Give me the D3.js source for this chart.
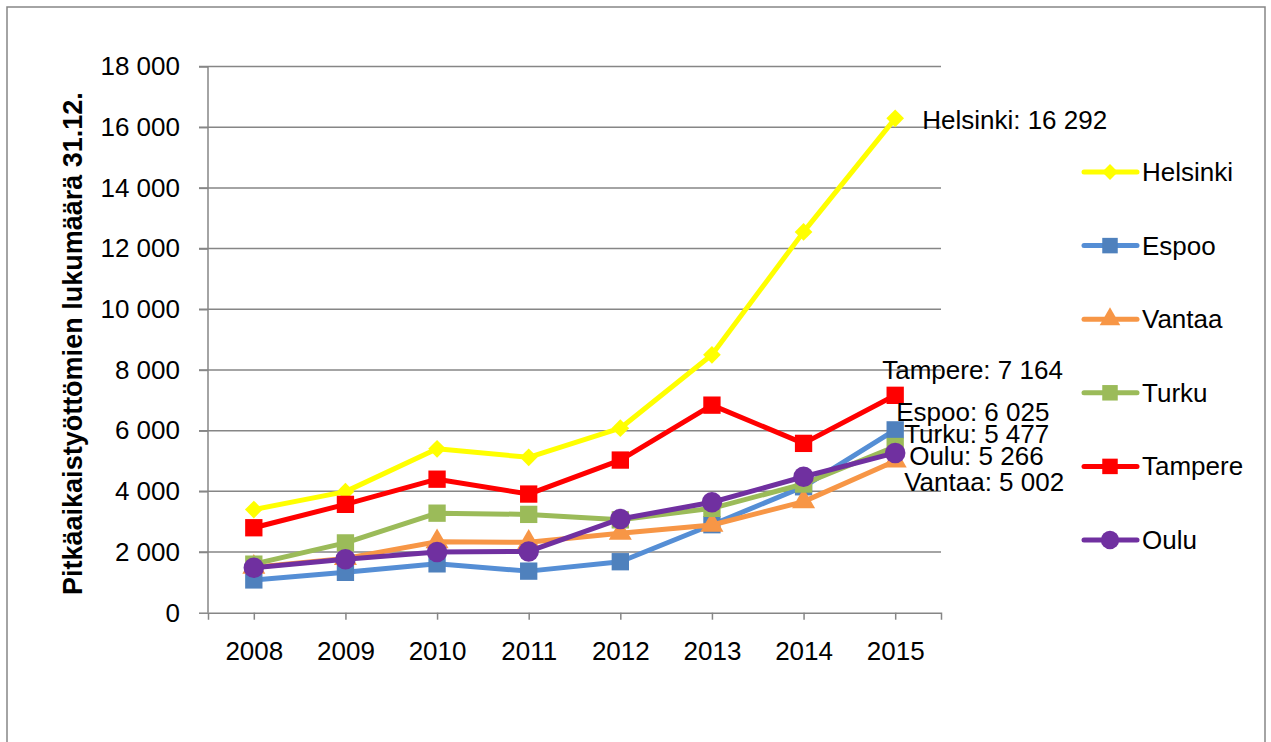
<!DOCTYPE html>
<html>
<head>
<meta charset="utf-8">
<script src="https://cdn.jsdelivr.net/npm/d3@7"></script>
<style>
  body { margin: 0; background: #fff; }
  text { font-family: "Liberation Sans", Arial, sans-serif; }
</style>
</head>
<body>
<div id="graf"></div>
<script>
// -- Datos
vuodet = ['2008', '2009', '2010', '2011', '2012', '2013', '2014', '2015']
kaupungit = ['Helsinki', 'Espoo', 'Vantaa', 'Turku', 'Tampere', 'Oulu']
helsinki = [3400, 3990, 5400, 5120, 6080, 8500, 12550, 16292]
espoo    = [1080, 1330, 1610, 1370, 1680, 2900, 4150, 6025]
vantaa   = [1500, 1790, 2340, 2320, 2620, 2890, 3660, 5002]
turku    = [1600, 2300, 3280, 3240, 3060, 3440, 4240, 5477]
tampere  = [2800, 3570, 4400, 3910, 5030, 6840, 5580, 7164]
oulu     = [1480, 1760, 2000, 2020, 3090, 3640, 4480, 5266]
yTicks = [0, 2000, 4000, 6000, 8000, 10000, 12000, 14000, 16000, 18000]
yOtsikko = 'Pitkäaikaistyöttömien lukumäärä 31.12.'

sarjat = [helsinki, espoo, vantaa, turku, tampere, oulu]

// -- Estilos por serie
tyylit = [
  {viiva: '#FFFF00', merkki: '#FFFF00', muoto: d3.symbolDiamond2, koko: 200},
  {viiva: '#558ED5', merkki: '#4F81BD', muoto: d3.symbolSquare, koko: 300},
  {viiva: '#F79646', merkki: '#F79646', muoto: d3.symbolTriangle, koko: 230},
  {viiva: '#9BBB59', merkki: '#9BBB59', muoto: d3.symbolSquare, koko: 300},
  {viiva: '#FF0000', merkki: '#FF0000', muoto: d3.symbolSquare, koko: 300},
  {viiva: '#7030A0', merkki: '#7030A0', muoto: d3.symbolCircle, koko: 330}
]
// -- Desplazamiento de las etiquetas del último punto
etiketit = [
  {dx: 27, dy: 2}, {dx: 1, dy: -18}, {dx: 9, dy: 21},
  {dx: 9, dy: -13}, {dx: -13, dy: -25}, {dx: 14, dy: 3}
]

ancho_total = 1271
alto_total = 742
fmt = d3.formatLocale({decimal: ',', thousands: ' ', grouping: [3], currency: ['', '€']}).format(',d')

svg = d3.select('#graf').append('svg')
        .attr('width', ancho_total)
        .attr('height', alto_total)

// -- Marco exterior
svg.append('rect')
    .attr('x', 7).attr('y', 7)
    .attr('width', 1258).attr('height', 760)
    .attr('fill', '#fff')
    .attr('stroke', '#868686')
    .attr('stroke-width', 1.5)

x = d3.scalePoint().domain(vuodet).range([208, 941]).padding(0.5)
y = d3.scaleLinear().domain([0, 18000]).range([612.7, 66.5])

// -- Grid
svg.append('g')
    .selectAll('line')
    .data(yTicks.slice(1))
    .join('line')
      .attr('x1', 199).attr('x2', 941)
      .attr('y1', d => y(d)).attr('y2', d => y(d))
      .attr('stroke', '#868686')
      .attr('stroke-width', 1.5)

// -- Ejes
yAxis = d3.axisLeft(y).tickValues(yTicks).tickSize(9).tickSizeOuter(0).tickPadding(19).tickFormat(fmt)
gy = svg.append('g').attr('transform', 'translate(208,0)').call(yAxis)
gy.selectAll('line, path').attr('stroke', '#868686').attr('stroke-width', 1.5)
gy.selectAll('text').attr('font-size', 26).attr('fill', '#000')
gy.select('.domain').attr('d', `M0,${y(18000)}V${y(0)}`)

xAxis = d3.axisBottom(x).tickSize(7).tickSizeOuter(7).tickPadding(22)
gx = svg.append('g').attr('transform', `translate(0,${y(0)})`).call(xAxis)
gx.selectAll('line, path').attr('stroke', '#868686').attr('stroke-width', 1.5)
gx.selectAll('text').attr('font-size', 26).attr('fill', '#000')

// -- Título eje Y
svg.append('text')
    .attr('transform', `translate(82, ${(y(0) + y(18000)) / 2 + 4}) rotate(-90)`)
    .attr('text-anchor', 'middle')
    .attr('font-size', 27)
    .attr('font-weight', 'bold')
    .text(yOtsikko)

// -- Líneas
viiva = d3.line().x((d, i) => x(vuodet[i])).y(d => y(d))

sarjat.forEach((s, k) => {
  t = tyylit[k]
  g = svg.append('g')
  g.append('path')
    .attr('d', viiva(s))
    .attr('fill', 'none')
    .attr('stroke', t.viiva)
    .attr('stroke-width', 5)
    .attr('stroke-linejoin', 'round')
    .attr('stroke-linecap', 'round')
  g.selectAll('path.m')
    .data(s)
    .join('path')
      .attr('class', 'm')
      .attr('d', d3.symbol(t.muoto, t.koko))
      .attr('transform', (d, i) => `translate(${x(vuodet[i])},${y(d)})`)
      .attr('fill', t.merkki)
})

// -- Etiquetas del último punto
sarjat.forEach((s, k) => {
  last = s.length - 1
  svg.append('text')
    .attr('x', x(vuodet[last]) + etiketit[k].dx)
    .attr('y', y(s[last]) + etiketit[k].dy)
    .attr('dominant-baseline', 'central')
    .attr('font-size', 26)
    .text(`${kaupungit[k]}: ${fmt(s[last])}`)
})

// -- Leyenda
ley = svg.append('g')
kaupungit.forEach((c, k) => {
  t = tyylit[k]
  yy = 172 + k * 73.6
  ley.append('line')
    .attr('x1', 1084).attr('x2', 1137)
    .attr('y1', yy).attr('y2', yy)
    .attr('stroke', t.viiva)
    .attr('stroke-width', 5)
    .attr('stroke-linecap', 'round')
  ley.append('path')
    .attr('d', d3.symbol(t.muoto, t.koko * 0.8))
    .attr('transform', `translate(1110,${yy})`)
    .attr('fill', t.merkki)
  ley.append('text')
    .attr('x', 1142).attr('y', yy)
    .attr('dominant-baseline', 'central')
    .attr('font-size', 26)
    .text(c)
})
</script>
</body>
</html>
